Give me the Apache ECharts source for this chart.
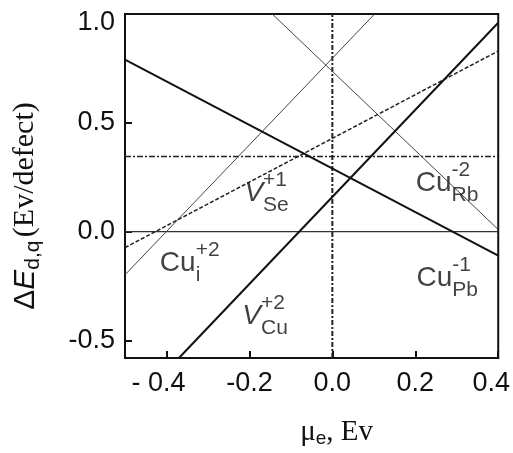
<!DOCTYPE html>
<html>
<head>
<meta charset="utf-8">
<script src="https://cdn.jsdelivr.net/npm/echarts@6/dist/echarts.min.js"></script>
<style>html,body{margin:0;padding:0;background:#fff}#c{width:513px;height:453px}</style>
</head>
<body>
<div id="c"></div>
<script>
// axis ranges and ticks
const xMin = -0.5, xMax = 0.4;
const yMin = -0.58, yMax = 1.0;
const xTicks = [-0.4, -0.2, 0, 0.2, 0.4];
const yTicks = [-0.5, 0, 0.5, 1.0];

// lines (endpoints)
const cuPbM1 = [[-0.5, 0.79], [0.4, -0.11]];
const cuRbM2 = [[-0.145, 1.0], [0.4, 0.01]];
const vCuP2 = [[-0.37, -0.58], [0.4, 0.96]];
const vSeP1 = [[-0.5, -0.073], [0.4, 0.83]];
const cuIP2 = [[-0.5, -0.198], [0.102, 1.0]];
const zeroLevel = [[-0.5, 0], [0.4, 0]];
const dashDotLevel = [[-0.5, 0.345], [0.4, 0.345]];
const muZero = [[0, -0.58], [0, 1.0]];

// defect labels
const labelBase = ['Cu', 'V', 'V', 'Cu', 'Cu'];
const labelSup = ['+2', '+1', '+2', '-2', '-1'];
const labelSub = ['i', 'Se', 'Cu', 'Rb', 'Pb'];
const labelItalic = [false, true, true, false, false];
const labelPos = [[-0.416, -0.145], [-0.212, 0.175], [-0.217, -0.387], [0.201, 0.221], [0.203, -0.213]];

const SANS = '"Liberation Sans", Arial, sans-serif';
const SERIF = '"Liberation Serif", "Times New Roman", serif';

function lineSeries(data, width, type, color) {
  return {
    type: 'line', data: data, showSymbol: false, symbol: 'none', silent: true,
    lineStyle: { width: width, type: type, color: color }, z: 3
  };
}

const supData = [], subData = [];
labelBase.forEach(function (b, i) {
  const bs = labelItalic[i] ? 'bi' : 'b';
  supData.push({ value: labelPos[i], label: { formatter: '{' + bs + '|' + b + '}{sup|' + labelSup[i] + '}' } });
  subData.push({ value: labelPos[i], label: { formatter: '{' + bs + 'h|' + b + '}{sub|' + labelSub[i] + '}' } });
});
const richLbl = {
  b: { fontFamily: SANS, fontSize: 28, color: '#111', lineHeight: 30 },
  bi: { fontFamily: SANS, fontSize: 28, fontStyle: 'italic', color: '#111', lineHeight: 30 },
  bh: { fontFamily: SANS, fontSize: 28, color: 'rgba(0,0,0,0)', lineHeight: 30 },
  bih: { fontFamily: SANS, fontSize: 28, fontStyle: 'italic', color: 'rgba(0,0,0,0)', lineHeight: 30 },
  sup: { fontFamily: SANS, fontSize: 21, color: '#111', lineHeight: 22, padding: [0, 0, 26, 0] },
  sub: { fontFamily: SANS, fontSize: 21, color: '#111', lineHeight: 22, padding: [24, 0, 0, 0] }
};
function labelSeries(data) {
  return {
    type: 'scatter', data: data, symbolSize: 0, silent: true, z: 5,
    label: { show: true, position: 'right', distance: 0, rich: richLbl }
  };
}

const chart = echarts.init(document.getElementById('c'), null, { renderer: 'canvas' });
chart.setOption({
  animation: false,
  backgroundColor: '#fff',
  grid: { left: 125, right: 13, top: 14, bottom: 93, show: true, borderColor: '#111', borderWidth: 2, backgroundColor: 'transparent' },
  xAxis: {
    type: 'value', min: xMin, max: xMax,
    name: '{m|μ}{e|e}{c|, Ev}', nameLocation: 'middle', nameGap: 58,
    nameTextStyle: {
      padding: [0, 0, 0, 50],
      rich: {
        m: { fontFamily: SERIF, fontSize: 29, color: '#111' },
        e: { fontFamily: SANS, fontSize: 19, color: '#111', padding: [13, 0, 0, 0] },
        c: { fontFamily: SERIF, fontSize: 29, color: '#111' }
      }
    },
    axisLine: { show: true, onZero: false, lineStyle: { color: '#111', width: 2 } },
    axisTick: { show: true, inside: true, length: 7, customValues: xTicks, lineStyle: { color: '#111', width: 2 } },
    splitLine: { show: false },
    axisLabel: {
      customValues: xTicks, margin: 12, color: '#111', fontFamily: SANS, fontSize: 27, hideOverlap: false,
      formatter: function (v) {
        if (Math.abs(v + 0.4) < 1e-9) return '{l|- 0.4}';
        if (Math.abs(v - 0.4) < 1e-9) return '{r|0.4}';
        return (Math.abs(v) < 1e-9 ? 0 : v).toFixed(1);
      },
      rich: {
        l: { fontFamily: SANS, fontSize: 27, color: '#111', padding: [0, 16, 0, 0] },
        r: { fontFamily: SANS, fontSize: 27, color: '#111', padding: [0, 14, 0, 0] }
      }
    }
  },
  yAxis: {
    type: 'value', min: yMin, max: yMax,
    name: '{D|Δ}{E|E}{s|d,q} {u|(Ev/defect)}', nameLocation: 'middle', nameGap: 81,
    nameTextStyle: {
      padding: [0, 40, 0, 0],
      rich: {
        D: { fontFamily: SANS, fontSize: 30, color: '#111' },
        E: { fontFamily: SANS, fontSize: 30, fontStyle: 'italic', color: '#111' },
        s: { fontFamily: SANS, fontSize: 21, color: '#111', padding: [16, 0, 0, 0] },
        u: { fontFamily: SERIF, fontSize: 30, color: '#111' }
      }
    },
    axisLine: { show: true, onZero: false, lineStyle: { color: '#111', width: 2 } },
    axisTick: { show: true, inside: true, length: 7, customValues: yTicks, lineStyle: { color: '#111', width: 2 } },
    splitLine: { show: false },
    axisLabel: {
      customValues: yTicks, margin: 10, color: '#111', fontFamily: SANS, fontSize: 27, hideOverlap: false,
      formatter: function (v) {
        if (Math.abs(v - 1) < 1e-9) return '{t|1.0}';
        return (Math.abs(v) < 1e-9 ? 0 : v).toFixed(1);
      },
      rich: { t: { fontFamily: SANS, fontSize: 27, color: '#111', padding: [18, 0, 0, 0] } }
    }
  },
  series: [
    lineSeries(zeroLevel, 1.2, 'solid', '#333'),
    lineSeries(dashDotLevel, 1.5, [6, 2, 2, 2], '#222'),
    lineSeries(muZero, 2, [5, 2, 2, 2], '#222'),
    lineSeries(cuIP2, 1, 'solid', '#444'),
    lineSeries(cuRbM2, 1, 'solid', '#444'),
    lineSeries(vSeP1, 1.5, [4, 2], '#222'),
    lineSeries(cuPbM1, 2, 'solid', '#111'),
    lineSeries(vCuP2, 2, 'solid', '#111'),
    labelSeries(supData),
    labelSeries(subData)
  ]
});
</script>
</body>
</html>
